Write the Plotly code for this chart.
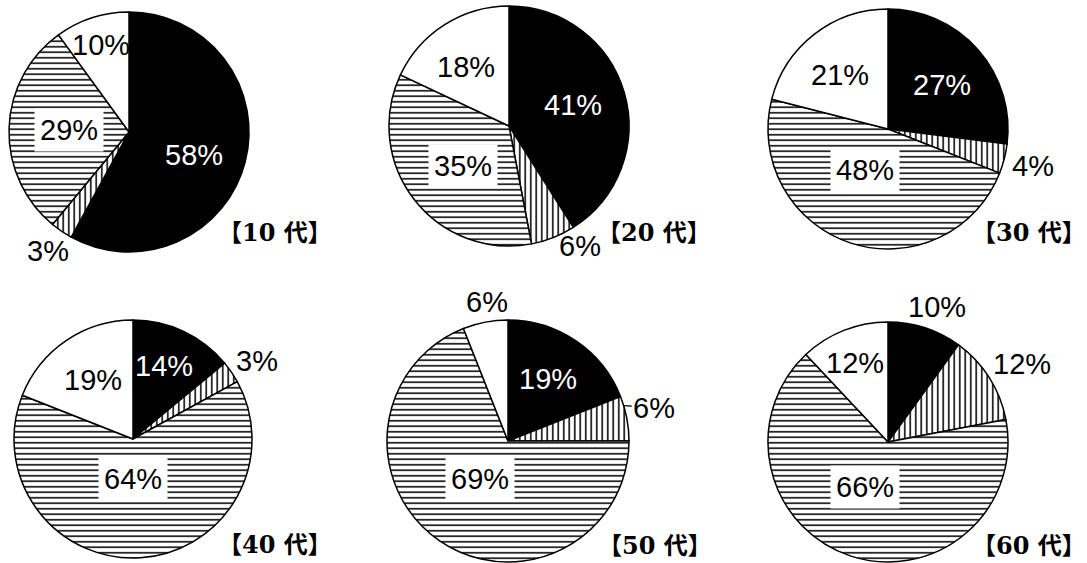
import math
import plotly.graph_objects as go

# Share of each answer by age group (percent), slices in clockwise order
ages = ["10 代", "20 代", "30 代", "40 代", "50 代", "60 代"]
black_pct = [58, 41, 27, 14, 19, 10]
vstripe_pct = [3, 6, 4, 3, 6, 12]
hstripe_pct = [29, 35, 48, 64, 69, 66]
white_pct = [10, 18, 21, 19, 6, 12]

W, H = 1087, 563

# Pie placement in pixels: centre x, centre y, radius
pie_geom = [
    (129, 132, 120), (509, 126, 120), (888, 129, 120),
    (133, 439, 119), (508, 441, 121), (888, 442, 120),
]
# Right edge and vertical centre of each age title (pixels)
title_pos = [(333, 233), (712, 233), (1087, 233), (333, 544), (713, 545), (1087, 545)]

# Label placement per slice: radial factor and angular nudge (degrees)
label_rad = [
    [0.57, 1.20, 0.50, 0.76],
    [0.56, 1.16, 0.51, 0.61],
    [0.58, 1.25, 0.39, 0.60],
    [0.67, 1.23, 0.34, 0.60],
    [0.61, 1.24, 0.39, 1.16],
    [1.20, 1.29, 0.42, 0.71],
]
label_nudge = [
    [5, 0, 0, 0],
    [-2, -9, -3, -4],
    [2, 0, 11, -4],
    [-2, 2, 4, 0],
    [-1, -2, 2, 2],
    [2, 2, 9, -1],
]

LABEL_FONT = "Liberation Sans, Arial, sans-serif"
TITLE_FONT = "DejaVu Serif, Noto Sans CJK JP, serif"

fig = go.Figure()
annotations = []


def to_paper(px, py):
    return px / W, 1 - py / H


for i, age in enumerate(ages):
    vals = [black_pct[i], vstripe_pct[i], hstripe_pct[i], white_pct[i]]
    cx, cy, r = pie_geom[i]
    x0, y1 = to_paper(cx - r, cy - r)
    x1, y0 = to_paper(cx + r, cy + r)
    fig.add_trace(go.Pie(
        values=vals,
        labels=["a", "b", "c", "d"],
        sort=False,
        direction="clockwise",
        rotation=0,
        textinfo="none",
        hoverinfo="skip",
        domain=dict(x=[max(0, x0), min(1, x1)], y=[max(0, y0), min(1, y1)]),
        marker=dict(
            colors=["black", "white", "white", "white"],
            line=dict(color="black", width=1.5),
            pattern=dict(
                shape=["", "|", "-", ""],
                fgcolor="black",
                bgcolor=["black", "white", "white", "white"],
                size=5.5,
                solidity=0.28,
            ),
        ),
    ))

    total = sum(vals)
    cum = 0
    for k, v in enumerate(vals):
        mid = (cum + v / 2) / total * 360 + label_nudge[i][k]
        cum += v
        f = label_rad[i][k]
        a = math.radians(mid)
        lx = cx + r * f * math.sin(a)
        ly = cy - r * f * math.cos(a)
        inside = f < 1
        color = "white" if (k == 0 and inside) else "black"
        ann = dict(
            text=f"{v}%",
            xref="paper", yref="paper",
            font=dict(family=LABEL_FONT, size=29, color=color),
            showarrow=False,
            xanchor="center", yanchor="middle",
        )
        if k == 2 and inside:
            ann.update(bgcolor="white", borderpad=5)
        # short leader line for the narrow striped slice in the 50s pie
        if i == 4 and k == 1:
            ta = math.radians(73)
            tx = cx + r * math.sin(ta)
            ty = cy - r * math.cos(ta)
            px, py = to_paper(tx, ty)
            ann.update(x=px, y=py, showarrow=True, arrowhead=0, arrowwidth=1.2,
                       arrowcolor="black", ax=lx - tx, ay=ly - ty, standoff=0)
        else:
            px, py = to_paper(lx, ly)
            ann.update(x=px, y=py)
        annotations.append(ann)

    tx, ty = title_pos[i]
    px, py = to_paper(tx, ty)
    annotations.append(dict(
        text=f"<b>【{age}】</b>",
        x=px, y=py, xref="paper", yref="paper",
        xanchor="right", yanchor="middle", showarrow=False,
        borderpad=0,
        font=dict(family=TITLE_FONT, size=24, color="black"),
    ))

fig.update_layout(
    width=W, height=H,
    margin=dict(l=0, r=0, t=0, b=0),
    paper_bgcolor="white",
    plot_bgcolor="white",
    showlegend=False,
    annotations=annotations,
)

fig.write_html("out.html")
